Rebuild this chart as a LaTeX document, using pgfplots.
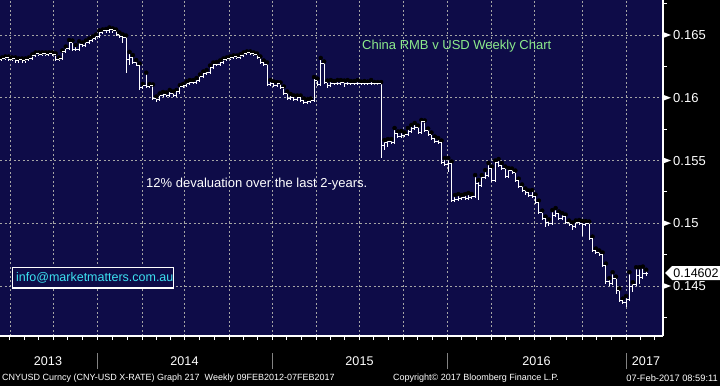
\documentclass[border=0pt]{standalone}
\usepackage{pgfplots}
\pgfplotsset{compat=1.18}
\usepackage{pgfplotstable}
\usepackage{fontspec}
\setmainfont{Liberation Sans}
\definecolor{navy}{RGB}{14,12,72}
\definecolor{gridgray}{RGB}{165,165,165}
\definecolor{titlegreen}{RGB}{140,235,140}
\definecolor{mailcyan}{RGB}{60,225,240}
\definecolor{sepgray}{RGB}{130,130,130}
\newcommand{\fsz}[1]{\fontsize{#1}{#1}\selectfont}
\pgfdeclareplotmark{otick}{\pgfpathmoveto{\pgfqpoint{-\pgfplotmarksize}{0pt}}\pgfpathlineto{\pgfqpoint{0pt}{0pt}}\pgfusepathqstroke}
\pgfdeclareplotmark{ctick}{\pgfpathmoveto{\pgfqpoint{\pgfplotmarksize}{0pt}}\pgfpathlineto{\pgfqpoint{0pt}{0pt}}\pgfusepathqstroke}

\pgfplotstableread{
i o h l c
0 0.16301 0.16321 0.16289 0.16309
1 0.16309 0.16329 0.16297 0.16317
2 0.16317 0.16329 0.16289 0.16301
3 0.16301 0.16321 0.16289 0.16309
4 0.16309 0.16321 0.16281 0.16293
5 0.16293 0.16313 0.16281 0.16301
6 0.16301 0.16313 0.16281 0.16293
7 0.16293 0.16313 0.16281 0.16301
8 0.16301 0.16321 0.16289 0.16309
9 0.16309 0.16345 0.16297 0.16333
10 0.16333 0.16361 0.16321 0.16349
11 0.16349 0.16361 0.16329 0.16341
12 0.16341 0.16361 0.16329 0.16349
13 0.16349 0.16361 0.16329 0.16341
14 0.16341 0.16361 0.16329 0.16349
15 0.16349 0.16361 0.16329 0.16341
16 0.16341 0.16353 0.16289 0.16301
17 0.16301 0.16321 0.16289 0.16309
18 0.16309 0.16377 0.16297 0.16365
19 0.16365 0.16408 0.16353 0.16396
20 0.16396 0.16460 0.16384 0.16444
21 0.16444 0.16456 0.16376 0.16388
22 0.16388 0.16420 0.16369 0.16381
23 0.16381 0.16450 0.16369 0.16428
24 0.16428 0.16440 0.16408 0.16420
25 0.16420 0.16456 0.16408 0.16444
26 0.16444 0.16472 0.16432 0.16460
27 0.16460 0.16488 0.16448 0.16476
28 0.16476 0.16504 0.16464 0.16492
29 0.16492 0.16536 0.16480 0.16524
30 0.16524 0.16544 0.16512 0.16532
31 0.16532 0.16548 0.16520 0.16532
32 0.16532 0.16560 0.16520 0.16540
33 0.16540 0.16552 0.16520 0.16532
34 0.16532 0.16544 0.16496 0.16508
35 0.16508 0.16520 0.16480 0.16492
36 0.16492 0.16504 0.16440 0.16484
37 0.16484 0.16496 0.16197 0.16301
38 0.16301 0.16365 0.16261 0.16317
39 0.16317 0.16340 0.16270 0.16285
40 0.16285 0.16300 0.16250 0.16261
41 0.16261 0.16273 0.16060 0.16078
42 0.16078 0.16110 0.16066 0.16094
43 0.16094 0.16200 0.16074 0.16086
44 0.16086 0.16110 0.16074 0.16094
45 0.16094 0.16106 0.15980 0.15998
46 0.15998 0.16010 0.15966 0.15990
47 0.15990 0.16034 0.15978 0.16022
48 0.16022 0.16046 0.16010 0.16030
49 0.16030 0.16042 0.16010 0.16022
50 0.16022 0.16062 0.16010 0.16038
51 0.16038 0.16050 0.16010 0.16022
52 0.16022 0.16062 0.16010 0.16046
53 0.16046 0.16100 0.16034 0.16086
54 0.16086 0.16110 0.16074 0.16094
55 0.16094 0.16130 0.16082 0.16117
56 0.16117 0.16141 0.16105 0.16125
57 0.16125 0.16141 0.16110 0.16125
58 0.16125 0.16157 0.16113 0.16141
59 0.16141 0.16185 0.16129 0.16173
60 0.16173 0.16209 0.16161 0.16197
61 0.16197 0.16221 0.16185 0.16205
62 0.16205 0.16257 0.16193 0.16245
63 0.16245 0.16281 0.16233 0.16269
64 0.16269 0.16285 0.16257 0.16269
65 0.16269 0.16297 0.16257 0.16285
66 0.16285 0.16313 0.16273 0.16301
67 0.16301 0.16321 0.16289 0.16309
68 0.16309 0.16329 0.16297 0.16317
69 0.16317 0.16337 0.16305 0.16325
70 0.16325 0.16337 0.16305 0.16317
71 0.16317 0.16345 0.16305 0.16333
72 0.16333 0.16361 0.16321 0.16349
73 0.16349 0.16369 0.16337 0.16357
74 0.16357 0.16369 0.16337 0.16349
75 0.16349 0.16361 0.16329 0.16341
76 0.16341 0.16353 0.16305 0.16317
77 0.16317 0.16329 0.16273 0.16285
78 0.16285 0.16297 0.16257 0.16269
79 0.16269 0.16281 0.16090 0.16102
80 0.16102 0.16141 0.16090 0.16117
81 0.16117 0.16129 0.16082 0.16094
82 0.16094 0.16125 0.16082 0.16110
83 0.16110 0.16122 0.16066 0.16078
84 0.16078 0.16090 0.16026 0.16038
85 0.16038 0.16050 0.15986 0.15998
86 0.15998 0.16030 0.15986 0.16006
87 0.16006 0.16018 0.15978 0.15990
88 0.15990 0.16018 0.15978 0.16006
89 0.16006 0.16018 0.15966 0.15982
90 0.15982 0.15994 0.15950 0.15966
91 0.15966 0.15990 0.15954 0.15974
92 0.15974 0.15994 0.15962 0.15982
93 0.15982 0.16165 0.15970 0.16141
94 0.16141 0.16153 0.16090 0.16102
95 0.16102 0.16317 0.16090 0.16277
96 0.16277 0.16289 0.16110 0.16125
97 0.16125 0.16137 0.16078 0.16094
98 0.16094 0.16141 0.16082 0.16110
99 0.16110 0.16133 0.16098 0.16117
100 0.16117 0.16141 0.16098 0.16110
101 0.16110 0.16141 0.16098 0.16125
102 0.16125 0.16137 0.16082 0.16110
103 0.16110 0.16141 0.16098 0.16117
104 0.16117 0.16133 0.16098 0.16110
105 0.16110 0.16133 0.16098 0.16117
106 0.16117 0.16141 0.16098 0.16110
107 0.16110 0.16129 0.16098 0.16117
108 0.16117 0.16133 0.16098 0.16110
109 0.16110 0.16129 0.16098 0.16117
110 0.16117 0.16141 0.16098 0.16110
111 0.16110 0.16125 0.16098 0.16110
112 0.16110 0.16125 0.16098 0.16110
113 0.16110 0.16125 0.15520 0.15623
114 0.15623 0.15663 0.15580 0.15647
115 0.15647 0.15671 0.15611 0.15655
116 0.15655 0.15671 0.15635 0.15647
117 0.15647 0.15759 0.15635 0.15719
118 0.15719 0.15731 0.15683 0.15695
119 0.15695 0.15735 0.15683 0.15703
120 0.15703 0.15723 0.15691 0.15711
121 0.15711 0.15759 0.15699 0.15735
122 0.15735 0.15783 0.15723 0.15759
123 0.15759 0.15799 0.15747 0.15767
124 0.15767 0.15779 0.15715 0.15727
125 0.15727 0.15823 0.15715 0.15807
126 0.15807 0.15819 0.15731 0.15743
127 0.15743 0.15755 0.15699 0.15711
128 0.15711 0.15723 0.15667 0.15679
129 0.15679 0.15691 0.15643 0.15655
130 0.15655 0.15679 0.15635 0.15647
131 0.15647 0.15659 0.15476 0.15488
132 0.15488 0.15520 0.15460 0.15472
133 0.15472 0.15520 0.15408 0.15480
134 0.15480 0.15492 0.15169 0.15185
135 0.15185 0.15225 0.15173 0.15193
136 0.15193 0.15233 0.15181 0.15201
137 0.15201 0.15225 0.15189 0.15209
138 0.15209 0.15233 0.15189 0.15201
139 0.15201 0.15241 0.15189 0.15209
140 0.15209 0.15233 0.15197 0.15217
141 0.15217 0.15384 0.15205 0.15320
142 0.15320 0.15344 0.15185 0.15305
143 0.15305 0.15384 0.15293 0.15368
144 0.15368 0.15424 0.15356 0.15384
145 0.15384 0.15480 0.15372 0.15440
146 0.15440 0.15452 0.15332 0.15344
147 0.15344 0.15500 0.15332 0.15488
148 0.15488 0.15512 0.15452 0.15464
149 0.15464 0.15480 0.15428 0.15440
150 0.15440 0.15452 0.15364 0.15376
151 0.15376 0.15440 0.15364 0.15424
152 0.15424 0.15436 0.15396 0.15408
153 0.15408 0.15420 0.15332 0.15344
154 0.15344 0.15356 0.15285 0.15297
155 0.15297 0.15309 0.15253 0.15265
156 0.15265 0.15277 0.15225 0.15249
157 0.15249 0.15261 0.15213 0.15225
158 0.15225 0.15265 0.15205 0.15217
159 0.15217 0.15229 0.15157 0.15169
160 0.15169 0.15181 0.15077 0.15089
161 0.15089 0.15101 0.15030 0.15042
162 0.15042 0.15054 0.14970 0.15010
163 0.15010 0.15030 0.14978 0.15002
164 0.15002 0.15105 0.14990 0.15065
165 0.15065 0.15121 0.15053 0.15081
166 0.15081 0.15093 0.15030 0.15042
167 0.15042 0.15080 0.15030 0.15057
168 0.15057 0.15069 0.14998 0.15010
169 0.15010 0.15022 0.14982 0.14994
170 0.14994 0.15006 0.14950 0.14978
171 0.14978 0.15022 0.14966 0.15010
172 0.15010 0.15026 0.14990 0.15002
173 0.15002 0.15018 0.14900 0.14994
174 0.14994 0.15018 0.14982 0.15002
175 0.15002 0.15014 0.14870 0.14882
176 0.14882 0.14894 0.14775 0.14787
177 0.14787 0.14799 0.14759 0.14771
178 0.14771 0.14783 0.14743 0.14755
179 0.14755 0.14767 0.14655 0.14667
180 0.14667 0.14679 0.14515 0.14539
181 0.14539 0.14563 0.14500 0.14523
182 0.14523 0.14610 0.14511 0.14563
183 0.14563 0.14575 0.14440 0.14468
184 0.14468 0.14480 0.14370 0.14388
185 0.14388 0.14400 0.14360 0.14372
186 0.14372 0.14420 0.14330 0.14396
187 0.14396 0.14610 0.14384 0.14500
188 0.14500 0.14530 0.14450 0.14516
189 0.14516 0.14650 0.14504 0.14587
190 0.14587 0.14650 0.14520 0.14571
191 0.14571 0.14655 0.14559 0.14603
192 0.14603 0.14630 0.14580 0.14602
}\cny

\begin{document}
\begin{tikzpicture}[x=1pt,y=1pt]
\useasboundingbox (0,0) rectangle (720,386);
\fill[black] (0,0) rectangle (720,386);
\fill[navy] (0,50) rectangle (663,386);
\begin{axis}[
  at={(0pt,50pt)}, anchor=south west,
  scale only axis, width=663pt, height=336pt,
  xmin=-0.596, xmax=197.0, ymin=0.14102, ymax=0.16779,
  axis x line*=bottom, axis y line*=right,
  axis line style={white, line width=1.2pt, -},
  xtick={2.38,15.20,28.32,41.73,54.25,67.66,80.48,93.59,106.41,119.52,132.64,145.75,158.57,172.88,185.99},
  xticklabel={},
  minor xtick={6.65,10.93,19.57,23.95,32.79,37.26,45.90,50.08,58.72,63.19,71.93,76.21,84.85,89.22,97.86,102.14,110.78,115.15,123.89,128.27,137.01,141.38,150.02,154.30,163.34,168.11,177.25,181.62,190.3,194.6},
  ytick={0.145,0.15,0.155,0.16,0.165},
  yticklabels={0.145,0.15,0.155,0.16,0.165},
  minor ytick={0.1425,0.1475,0.1525,0.1575,0.1625,0.1675},
  tick align=outside, major tick length=4pt, minor tick length=4pt,
  tick style={white, line width=1pt},
  grid=major,
  major grid style={gridgray, line width=0.8pt, dash pattern=on 2pt off 2.5pt},
  yticklabel style={white, font=\fsz{13}, anchor=west, inner sep=0pt, xshift=6pt},
]
\addplot[only marks, mark=none, forget plot,
  error bars/.cd, y dir=minus, y explicit, error mark=none,
  error bar style={white, line width=1pt, solid}]
  table[x=i, y=h, y error minus expr=\thisrow{h}-\thisrow{l}] {\cny};
\addplot[only marks, white, mark=otick, mark size=1.7pt, mark options={line width=1pt}] table[x=i, y=o] {\cny};
\addplot[only marks, white, mark=ctick, mark size=1.7pt, mark options={line width=1pt}] table[x=i, y=c] {\cny};
\end{axis}
% right-axis markers
\foreach \yy in {100,162.75,225.5,288.25,351}{
  \fill[white] (663,\yy-3) -- (671,\yy) -- (663,\yy+3) -- cycle;
}
% last value tag
\fill[white] (665,113) -- (672,120) -- (720,120) -- (720,106) -- (672,106) -- cycle;
\node[black, font=\fsz{12.5}, inner sep=0pt] at (696,113) {0.14602};
% texts in panel
\node[titlegreen, font=\fsz{13}, anchor=west, inner sep=0pt] at (362,340) {China RMB v USD Weekly Chart};
\node[white, font=\fsz{13}, anchor=west, inner sep=0pt] at (146,202) {12\% devaluation over the last 2-years.};
\draw[white, line width=1.5pt, fill=navy] (12.5,98) rectangle (173.5,118.5);
\node[mailcyan, font=\fsz{12.5}, anchor=west, inner sep=0pt] at (16,108) {info@marketmatters.com.au};
% year labels and separators
\foreach \xx/\yr in {48/2013,184.5/2014,359.5/2015,536.5/2016,646/2017}{
  \node[white, font=\fsz{12.6}, inner sep=0pt] at (\xx,24.5) {\yr};
}
\foreach \xx in {97,272,447,626}{
  \draw[sepgray, line width=1pt] (\xx,16.7) -- (\xx,32.7);
}
% footer
\node[white, font=\fsz{9}, anchor=west, inner sep=0pt] at (2,8) {CNYUSD Curncy (CNY-USD X-RATE) Graph 217\ \ Weekly 09FEB2012-07FEB2017};
\node[white, font=\fsz{9}, anchor=west, inner sep=0pt] at (393,8) {Copyright© 2017 Bloomberg Finance L.P.};
\node[white, font=\fsz{9.3}, anchor=east, inner sep=0pt] at (718,8) {07-Feb-2017 08:59:11};
\end{tikzpicture}
\end{document}
